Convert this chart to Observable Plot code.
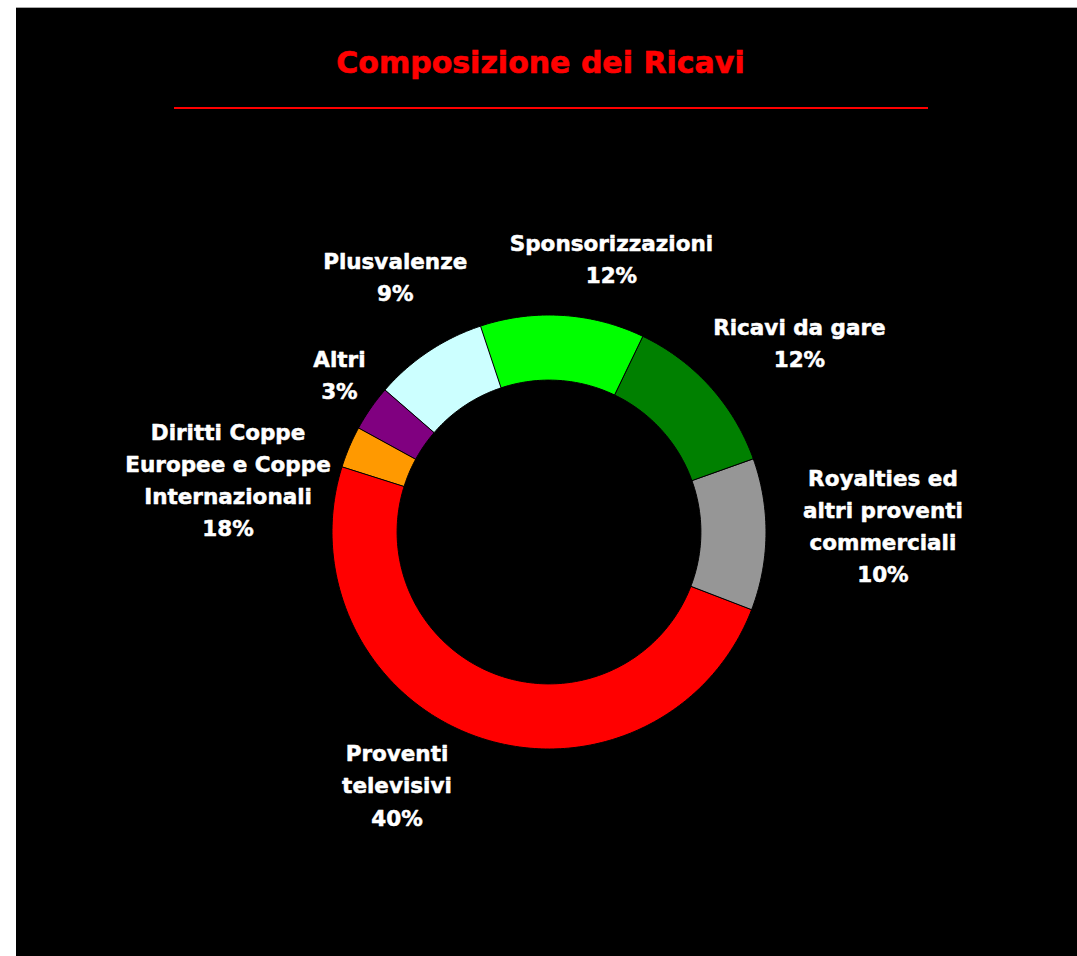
<!DOCTYPE html>
<html>
<head>
<meta charset="utf-8">
<script src="https://cdn.jsdelivr.net/npm/d3@7"></script>
<script src="https://cdn.jsdelivr.net/npm/@observablehq/plot@0.6"></script>
<style>
  html, body { margin: 0; padding: 0; background: #ffffff; }
  #panel { position: absolute; left: 16px; top: 7px; width: 1061px; height: 949px;
           background: #000; border-top: 1px solid #a8a8a8; box-sizing: border-box; overflow: hidden; }
  #title { position: absolute; left: -6px; width: 1061px; top: 40px; text-align: center;
           font-family: "DejaVu Sans", Verdana, sans-serif; font-weight: bold; font-size: 30px;
           line-height: 30px; color: #ff0000; -webkit-text-stroke: 0.6px #ff0000; }
  #rule { position: absolute; left: 158px; width: 754px; top: 99px; height: 2px; background: #ff0000; }
  #chart { position: absolute; left: 0; top: 130px; }
</style>
</head>
<body>
<div id="panel">
  <div id="title">Composizione dei Ricavi</div>
  <div id="rule"></div>
  <div id="chart"></div>
</div>
<script>
// ---- data ----
const categories = [
  "Sponsorizzazioni",
  "Ricavi da gare",
  "Royalties ed\naltri proventi\ncommerciali",
  "Proventi\ntelevisivi",
  "Diritti Coppe\nEuropee e Coppe\nInternazionali",
  "Altri",
  "Plusvalenze"
];
// angular share of each ring segment, as drawn (percent of the full ring)
const shares = [12.25, 12.4, 11.3, 49.0, 3.1, 3.4, 8.5];
// percentage text printed in each label
const pctLabels = ["12%", "12%", "10%", "40%", "18%", "3%", "9%"];

// ---- style ----
const colors = ["#00FF00", "#008000", "#969696", "#FF0000", "#FF9900", "#800080", "#CCFFFF"];
const startDeg = -18.4;          // first segment begins a little left of 12 o'clock
const innerRatio = 0.70;         // hole radius / outer radius
// label placement: [angle nudge from segment middle (deg), distance in outer radii]
const labelLayout = [[9.25, 1.287], [4.95, 1.445], [-1.6, 1.539], [11.55, 1.365],
                     [-14.05, 1.498], [1.85, 1.205], [2.55, 1.37]];

const W = 1061, H = 818;
const cx = 532.5, cy = 393.5, R = 217;

const pie = d3.pie().sort(null).value(d => d.value)
  .startAngle(startDeg * Math.PI / 180)
  .endAngle(startDeg * Math.PI / 180 + 2 * Math.PI);

const rows = categories.map((c, i) => ({name: c, value: shares[i], pct: pctLabels[i], color: colors[i]}));
const arcs = pie(rows);

function ringPoints(a0, a1) {
  const n = Math.max(8, Math.ceil((a1 - a0) / (Math.PI / 180)));
  const pts = [];
  for (let k = 0; k <= n; k++) {
    const a = a0 + (a1 - a0) * k / n;
    pts.push({x: Math.sin(a), y: Math.cos(a)});
  }
  for (let k = n; k >= 0; k--) {
    const a = a0 + (a1 - a0) * k / n;
    pts.push({x: innerRatio * Math.sin(a), y: innerRatio * Math.cos(a)});
  }
  return pts;
}

const sliceMarks = arcs.map(a =>
  Plot.line(ringPoints(a.startAngle, a.endAngle), {
    x: "x", y: "y", curve: "linear-closed",
    fill: a.data.color, stroke: "#000", strokeWidth: 1
  })
);

const labels = arcs.map((a, i) => {
  const mid = (a.startAngle + a.endAngle) / 2 + labelLayout[i][0] * Math.PI / 180;
  const r = labelLayout[i][1];
  return {x: r * Math.sin(mid), y: r * Math.cos(mid), text: a.data.name + "\n" + a.data.pct};
});

const chart = Plot.plot({
  width: W,
  height: H,
  margin: 0,
  style: {background: "#000", color: "#fff"},
  x: {domain: [-1, 1], range: [cx - R, cx + R], axis: null},
  y: {domain: [-1, 1], range: [cy + R, cy - R], axis: null},
  marks: [
    ...sliceMarks,
    Plot.text(labels, {
      x: "x", y: "y", text: "text", dy: -3,
      fill: "#fff", stroke: "#fff", strokeWidth: 0.5,
      fontSize: 21.5, fontWeight: "bold",
      fontFamily: "DejaVu Sans, Verdana, sans-serif",
      lineHeight: 1.49, textAnchor: "middle"
    })
  ]
});
document.getElementById("chart").appendChild(chart);
</script>
</body>
</html>
